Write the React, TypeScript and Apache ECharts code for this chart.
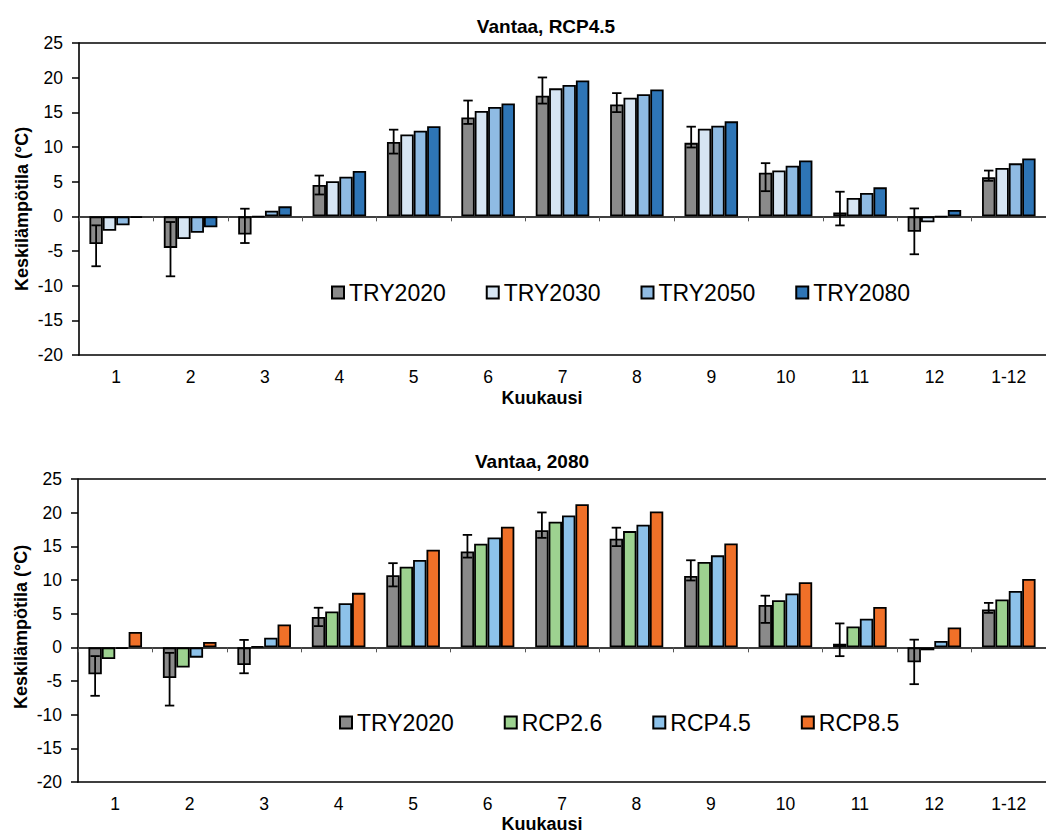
import React, { useEffect, useRef } from 'react';
import * as echarts from 'echarts';

const months = ['1', '2', '3', '4', '5', '6', '7', '8', '9', '10', '11', '12', '1-12'];
const yTicks = { min: -20, max: 25, interval: 5 };

// Top chart: Vantaa, RCP4.5
const try2020 = [-4.0, -4.55, -2.62, 4.52, 10.72, 14.25, 17.4, 16.13, 10.6, 6.28, 0.55, -2.22, 5.62];
const try2020Low = [-7.2, -8.65, -3.85, 3.15, 9.05, 13.33, 16.26, 15.03, 9.93, 3.63, -1.31, -5.47, 5.12];
const try2020High = [-1.3, -0.82, 1.1, 5.88, 12.5, 16.7, 20.03, 17.77, 12.93, 7.67, 3.55, 1.14, 6.6];
const try2030 = [-2.07, -3.27, -0.1, 5.05, 11.8, 15.2, 18.46, 17.1, 12.64, 6.6, 2.64, -0.87, 6.97];
const try2050 = [-1.3, -2.36, 0.8, 5.7, 12.36, 15.77, 18.94, 17.6, 13.08, 7.3, 3.37, -0.08, 7.64];
const try2080 = [-0.25, -1.58, 1.44, 6.54, 13.0, 16.28, 19.6, 18.3, 13.7, 8.05, 4.18, 0.93, 8.34];

// Bottom chart: Vantaa, 2080
const rcp26 = [-1.73, -3.0, 0.15, 5.33, 11.98, 15.38, 18.64, 17.26, 12.67, 7.0, 3.1, -0.44, 7.1];
const rcp45 = [-0.25, -1.53, 1.43, 6.56, 12.97, 16.32, 19.58, 18.2, 13.66, 8.0, 4.24, 0.94, 8.38];
const rcp85 = [2.27, 0.79, 3.4, 8.09, 14.5, 17.9, 21.25, 20.17, 15.43, 9.66, 6.0, 2.96, 10.16];

const topNames = ['TRY2020', 'TRY2030', 'TRY2050', 'TRY2080'];
const bottomNames = ['TRY2020', 'RCP2.6', 'RCP4.5', 'RCP8.5'];

const FONT = '"Liberation Sans", Arial, sans-serif';
const GAP = 0.28;

export default function App() {
  const ref = useRef<HTMLDivElement>(null);
  useEffect(() => {
    const chart = echarts.init(ref.current!, null, { renderer: 'svg' });

    const grids = [
      { left: 79, top: 43, width: 973, height: 312 },
      { left: 78, top: 479, width: 975, height: 303 },
    ];

    const xAxes: any[] = [];
    const yAxes: any[] = [];
    grids.forEach((_, g) => {
      xAxes.push({
        type: 'category',
        gridIndex: g,
        data: months,
        position: 'bottom',
        axisLine: { show: true, onZero: false, lineStyle: { color: '#000', width: 1.6 } },
        axisTick: { show: false },
        axisLabel: { color: '#000', fontSize: 17.5, fontFamily: FONT, margin: 13 },
        splitLine: { show: false },
      });
      xAxes.push({
        type: 'category',
        gridIndex: g,
        data: months,
        position: 'top',
        axisLine: { show: true, onZero: true, lineStyle: { color: '#000', width: 1.5 } },
        axisTick: { show: true, inside: true, length: 5, lineStyle: { color: '#555', width: 1 } },
        axisLabel: { show: false },
        splitLine: { show: false },
      });
      yAxes.push({
        type: 'value',
        gridIndex: g,
        min: yTicks.min,
        max: yTicks.max,
        interval: yTicks.interval,
        axisLine: { show: true, lineStyle: { color: '#000', width: 1.6 } },
        axisTick: { show: true, length: 7, lineStyle: { color: '#000', width: 1.5 } },
        axisLabel: { color: '#000', fontSize: 17.5, fontFamily: FONT, margin: 16 },
        splitLine: { show: false },
      });
    });

    const bar = (name: string, data: number[], color: string, xi: number, yi: number) => ({
      type: 'bar',
      name,
      data,
      xAxisIndex: xi,
      yAxisIndex: yi,
      barGap: '0%',
      barCategoryGap: GAP * 100 + '%',
      itemStyle: { color, borderColor: '#000', borderWidth: 1.8 },
      z: 2,
    });

    const errSeries = (xi: number, yi: number) => ({
      type: 'custom',
      xAxisIndex: xi,
      yAxisIndex: yi,
      z: 5,
      silent: true,
      encode: { x: 0, y: [1, 2] },
      data: months.map((_, i) => [i, try2020Low[i], try2020High[i]]),
      renderItem: (params: any, api: any) => {
        const i = api.value(0);
        const lo = api.coord([i, api.value(1)]);
        const hi = api.coord([i, api.value(2)]);
        const bw = api.size([1, 0])[0];
        const barW = (bw * (1 - GAP)) / 4;
        const x = lo[0] - 1.5 * barW;
        const cap = 4.7;
        const st = { stroke: '#000', lineWidth: 1.8 };
        return {
          type: 'group',
          children: [
            { type: 'line', shape: { x1: x, y1: hi[1], x2: x, y2: lo[1] }, style: st },
            { type: 'line', shape: { x1: x - cap, y1: hi[1], x2: x + cap, y2: hi[1] }, style: st },
            { type: 'line', shape: { x1: x - cap, y1: lo[1], x2: x + cap, y2: lo[1] }, style: st },
          ],
        };
      },
    });

    const gray = '#8a8a8a';
    const series: any[] = [
      bar(topNames[0], try2020, gray, 0, 0),
      bar(topNames[1], try2030, '#d6e5f3', 0, 0),
      bar(topNames[2], try2050, '#8fbbe3', 0, 0),
      bar(topNames[3], try2080, '#2e75b6', 0, 0),
      errSeries(0, 0),
      bar(bottomNames[0], try2020, gray, 2, 1),
      bar(bottomNames[1], rcp26, '#9dd290', 2, 1),
      bar(bottomNames[2], rcp45, '#8dc2ea', 2, 1),
      bar(bottomNames[3], rcp85, '#f07028', 2, 1),
      errSeries(2, 1),
    ];

    const legendText = { fontSize: 23, color: '#000', fontFamily: FONT };
    const txt = (text: string, x: number, y: number, size: number, rotation = 0) => ({
      type: 'text',
      x,
      y,
      rotation,
      style: {
        text,
        fill: '#000',
        font: `bold ${size}px ${FONT}`,
        textAlign: 'center',
        textVerticalAlign: 'middle',
      },
    });
    const hline = (x1: number, y: number) => ({
      type: 'line',
      shape: { x1, y1: y, x2: 1046, y2: y },
      style: { stroke: '#000', lineWidth: 1.6 },
      z: 10,
    });

    chart.setOption({
      animation: false,
      backgroundColor: '#fff',
      grid: grids,
      xAxis: xAxes,
      yAxis: yAxes,
      legend: [
        {
          data: topNames,
          left: 326,
          top: 276,
          icon: 'rect',
          itemWidth: 12,
          itemHeight: 12,
          itemGap: 40,
          textStyle: legendText,
          selectedMode: false,
        },
        {
          data: bottomNames,
          left: 334,
          top: 706,
          icon: 'rect',
          itemWidth: 12,
          itemHeight: 12,
          itemGap: 50,
          textStyle: legendText,
          selectedMode: false,
        },
      ],
      graphic: [
        hline(79, 43),
        hline(78, 479),
        txt('Vantaa, RCP4.5', 546, 26, 19),
        txt('Kuukausi', 542, 398, 18),
        txt('Keskilämpötila (°C)', 22, 209, 18, Math.PI / 2),
        txt('Vantaa, 2080', 532, 461, 19),
        txt('Kuukausi', 542, 824, 18),
        txt('Keskilämpötila (°C)', 21, 627, 18, Math.PI / 2),
      ],
      series,
    });
    return () => chart.dispose();
  }, []);
  return (
    <div
      ref={ref}
      style={{ position: 'absolute', left: 0, top: 0, width: 1046, height: 834, background: '#fff' }}
    />
  );
}
